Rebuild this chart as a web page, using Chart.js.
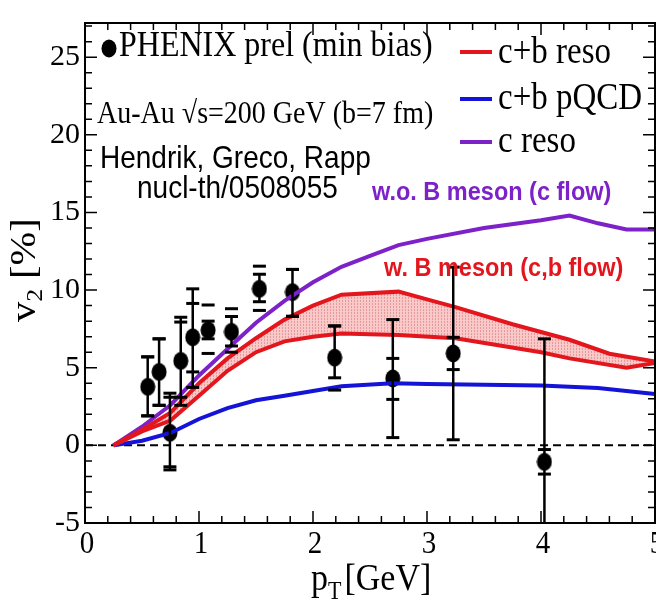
<!DOCTYPE html>
<html>
<head>
<meta charset="utf-8">
<script src="https://cdn.jsdelivr.net/npm/chart.js@4.4.1/dist/chart.umd.min.js"></script>
<style>
  html, body { margin: 0; padding: 0; background: #fff; }
  #wrap { width: 656px; height: 606px; }
</style>
</head>
<body>
<div id="wrap"><canvas id="c" width="656" height="606"></canvas></div>
<script>
// ---------- data ----------
const xTicks = [0, 1, 2, 3, 4, 5];
const yTicks = [-5, 0, 5, 10, 15, 20, 25];

// PHENIX prel (min bias) data points
const dataPt = [0.55, 0.65, 0.745, 0.84, 0.945, 1.08, 1.285, 1.53, 1.82, 2.19, 2.70, 3.23, 4.03];
const dataV2 = [3.77, 4.73, 0.81, 5.44, 6.96, 7.42, 7.31, 10.08, 9.87, 5.65, 4.31, 5.92, -1.06];
const statHi = [5.7, 6.86, 3.36, 8.25, 10.08, 8.0, 8.3, 11.02, 11.33, 7.69, 8.1, 11.48, 6.86];
const statLo = [1.9, 2.58, -1.58, 2.58, 3.73, 6.86, 6.4, 9.25, 8.31, 4.35, 0.5, 0.36, -9.0];
const sysHi  = [5.7, 6.86, 3.1, 7.94, 9.14, 9.04, 8.8, 11.54, 11.33, 7.69, 5.6, 6.96, -0.27];
const sysLo  = [1.9, 2.58, -1.38, 3.1, 4.73, 5.92, 6.0, 8.69, 8.31, 3.56, 2.96, 4.88, -1.85];

// c reso (purple)
const cResoX = [0.25, 0.5, 0.75, 1.0, 1.25, 1.5, 1.75, 2.0, 2.25, 2.5, 2.75, 3.0, 3.5, 4.0, 4.25, 4.5, 4.75, 5.0];
const cResoY = [0, 1.2, 2.6, 4.5, 6.2, 7.9, 9.3, 10.5, 11.5, 12.2, 12.9, 13.3, 14.0, 14.5, 14.8, 14.3, 13.9, 13.9];

// c+b reso band (red): upper and lower
const cbUpX = [0.25, 0.5, 0.75, 1.0, 1.25, 1.5, 1.75, 2.0, 2.25, 2.75, 3.0, 3.25, 3.75, 4.25, 4.6, 5.0];
const cbUpY = [0, 1.0, 2.1, 4.0, 5.6, 6.9, 8.1, 9.0, 9.7, 9.9, 9.4, 8.9, 7.8, 6.8, 5.9, 5.4];
const cbLoX = [0.25, 0.5, 0.75, 1.0, 1.25, 1.5, 1.75, 2.0, 2.25, 2.75, 3.25, 4.0, 4.25, 4.75, 5.0];
const cbLoY = [0, 0.9, 1.6, 3.2, 4.8, 6.0, 6.7, 7.0, 7.2, 7.1, 6.9, 6.0, 5.6, 5.0, 5.3];

// c+b pQCD (blue)
const pqcdX = [0.25, 0.5, 0.75, 1.0, 1.25, 1.5, 1.75, 2.0, 2.25, 2.7, 3.0, 3.5, 4.0, 4.5, 5.0];
const pqcdY = [0, 0.3, 0.8, 1.7, 2.4, 2.9, 3.2, 3.5, 3.8, 4.0, 3.95, 3.9, 3.85, 3.7, 3.3];

const RED = '#e3161e', BLUE = '#1414d8', PURPLE = '#7d22c8';
const SERIF = '"Liberation Serif", "Times New Roman", serif';
const SANS = '"Liberation Sans", Arial, sans-serif';
const SY = 1.12; // vertical stretch of the original picture's lettering

const xy = (xs, ys) => xs.map((x, i) => ({ x, y: ys[i] }));

// hatched pink pattern for band
function makePattern() {
  const p = document.createElement('canvas');
  p.width = 3; p.height = 3;
  const g = p.getContext('2d');
  g.fillStyle = '#f9c9c9';
  g.fillRect(0, 0, 3, 3);
  g.fillStyle = '#e89a9a';
  g.fillRect(0, 0, 1, 2);
  return g.createPattern(p, 'repeat');
}
// slightly tall elliptic marker like the original
function makeMarker() {
  const m = document.createElement('canvas');
  m.width = 16; m.height = 19;
  const g = m.getContext('2d');
  g.fillStyle = '#000';
  g.beginPath(); g.ellipse(8, 9.5, 7.5, 9, 0, 0, Math.PI * 2); g.fill();
  return m;
}
const marker = makeMarker();

function txt(ctx, s, x, y, font, color, align) {
  ctx.save();
  ctx.font = font;
  ctx.fillStyle = color || '#000';
  ctx.textAlign = align || 'left';
  ctx.textBaseline = 'alphabetic';
  ctx.translate(x, y);
  ctx.scale(1, SY);
  ctx.fillText(s, 0, 0);
  const w = ctx.measureText(s).width;
  ctx.restore();
  return w;
}

const decor = {
  id: 'decor',
  beforeDatasetsDraw(chart) {
    const { ctx, chartArea: a, scales: { y } } = chart;
    ctx.save();
    ctx.strokeStyle = '#000';
    ctx.lineWidth = 2;
    ctx.setLineDash([8, 5]);
    const y0 = y.getPixelForValue(0);
    ctx.beginPath(); ctx.moveTo(a.left, y0); ctx.lineTo(a.right, y0); ctx.stroke();
    ctx.restore();
  },
  afterDatasetsDraw(chart) {
    const { ctx, chartArea: a, scales: { x, y } } = chart;
    ctx.save();
    ctx.beginPath(); ctx.rect(a.left, a.top, a.right - a.left, a.bottom - a.top); ctx.clip();
    ctx.strokeStyle = '#000';
    for (let i = 0; i < dataPt.length; i++) {
      const px = x.getPixelForValue(dataPt[i]);
      ctx.lineWidth = 2.5;
      ctx.beginPath();
      ctx.moveTo(px, y.getPixelForValue(statHi[i]));
      ctx.lineTo(px, y.getPixelForValue(statLo[i]));
      ctx.stroke();
      ctx.lineWidth = 3;
      [statHi[i], statLo[i], sysHi[i], sysLo[i]].forEach(v => {
        const py = y.getPixelForValue(v);
        ctx.beginPath(); ctx.moveTo(px - 6.5, py); ctx.lineTo(px + 6.5, py); ctx.stroke();
      });
    }
    ctx.restore();
  },
  afterDraw(chart) {
    const { ctx, chartArea: a, scales: { x, y } } = chart;
    ctx.save();
    // frame
    ctx.strokeStyle = '#000';
    ctx.lineWidth = 2;
    ctx.strokeRect(a.left, a.top, a.right - a.left, a.bottom - a.top);
    // inward ticks
    ctx.lineWidth = 1.5;
    for (let k = 0; k <= 25; k++) {
      const px = x.getPixelForValue(k * 0.2);
      const L = (k % 5 === 0) ? 12 : 7;
      ctx.beginPath();
      ctx.moveTo(px, a.bottom); ctx.lineTo(px, a.bottom - L);
      ctx.moveTo(px, a.top); ctx.lineTo(px, a.top + L);
      ctx.stroke();
    }
    for (let v = -5; v <= 27; v += 1) {
      const py = y.getPixelForValue(v);
      const L = (v % 5 === 0) ? 12 : 7;
      ctx.beginPath();
      ctx.moveTo(a.left, py); ctx.lineTo(a.left + L, py);
      ctx.moveTo(a.right, py); ctx.lineTo(a.right - L, py);
      ctx.stroke();
    }
    // x tick labels (placed by the x scale)
    xTicks.forEach(v => {
      txt(ctx, String(v), x.getPixelForValue(v) + 2, a.bottom + 30, '29px ' + SERIF, '#000', 'center');
    });

    // x axis title
    let cx = 311;
    cx += txt(ctx, 'p', cx, 590, '34px ' + SERIF);
    cx += txt(ctx, 'T', cx, 599, '22px ' + SERIF);
    txt(ctx, '[GeV]', cx + 3, 590, '34px ' + SERIF);

    // y axis title (rotated)
    ctx.save();
    ctx.translate(35, 322);
    ctx.rotate(-Math.PI / 2);
    ctx.scale(SY, 1);
    ctx.fillStyle = '#000';
    ctx.textAlign = 'left';
    ctx.textBaseline = 'alphabetic';
    ctx.font = '36px ' + SERIF;
    ctx.fillText('v', 0, 0);
    const vw = ctx.measureText('v').width;
    ctx.font = '23px ' + SERIF;
    ctx.fillText('2', vw, 7);
    const w2 = ctx.measureText('2').width;
    ctx.font = '36px ' + SERIF;
    ctx.fillText(' [%]', vw + w2, 0);
    ctx.restore();

    // annotations
    ctx.drawImage(marker, 101, 39, 16, 19);
    txt(ctx, 'PHENIX prel (min bias)', 119, 56, '32px ' + SERIF);
    txt(ctx, 'Au-Au \u221As=200 GeV (b=7 fm)', 97, 123, '28px ' + SERIF);
    txt(ctx, 'Hendrik, Greco, Rapp', 100, 168, '28px ' + SANS);
    txt(ctx, 'nucl-th/0508055', 137, 198, '28px ' + SANS);
    txt(ctx, 'w.o. B meson (c flow)', 372, 200, 'bold 23.5px ' + SANS, PURPLE);
    txt(ctx, 'w. B meson (c,b flow)', 384, 276, 'bold 23.5px ' + SANS, RED);

    // legend
    const leg = [[RED, 'c+b reso', 52, 63], [BLUE, 'c+b pQCD', 99, 109], [PURPLE, 'c reso', 142, 152]];
    leg.forEach(([c, t, ly, by]) => {
      ctx.strokeStyle = c; ctx.lineWidth = 4;
      ctx.beginPath(); ctx.moveTo(460, ly); ctx.lineTo(492, ly); ctx.stroke();
      txt(ctx, t, 498, by, '33px ' + SERIF);
    });
    ctx.restore();
  }
};

const lineDs = (label, xs, ys, color, extra) => Object.assign({
  label, data: xy(xs, ys), showLine: true, borderColor: color, backgroundColor: color,
  borderWidth: 4, pointRadius: 0, tension: 0, fill: false
}, extra || {});

new Chart(document.getElementById('c'), {
  type: 'scatter',
  data: {
    datasets: [
      lineDs('c+b reso upper', cbUpX, cbUpY, RED),
      lineDs('c+b reso lower', cbLoX, cbLoY, RED, { fill: { target: 0 }, backgroundColor: makePattern() }),
      lineDs('c+b pQCD', pqcdX, pqcdY, BLUE),
      lineDs('c reso', cResoX, cResoY, PURPLE),
      {
        label: 'PHENIX prel (min bias)', data: xy(dataPt, dataV2),
        pointStyle: marker, pointRadius: 9, showLine: false
      }
    ]
  },
  options: {
    responsive: false,
    animation: false,
    events: [],
    layout: { autoPadding: false, padding: { top: 8, right: 1, left: 0, bottom: 0 } },
    plugins: { legend: { display: false }, tooltip: { enabled: false } },
    scales: {
      x: {
        type: 'linear', min: 0, max: 5,
        afterBuildTicks: s => { s.ticks = xTicks.map(v => ({ value: v })); },
        afterFit: s => { s.height = 83; },
        grid: { display: false, drawTicks: false },
        border: { display: false },
        ticks: { display: false }
      },
      y: {
        type: 'linear', min: -5, max: 27.2,
        afterBuildTicks: s => { s.ticks = yTicks.map(v => ({ value: v })); },
        afterFit: s => { s.width = 85; },
        grid: { display: false, drawTicks: false },
        border: { display: false },
        ticks: { color: '#000', font: { family: SERIF, size: 30 }, padding: 5, autoSkip: false }
      }
    }
  },
  plugins: [decor]
});
</script>
</body>
</html>
